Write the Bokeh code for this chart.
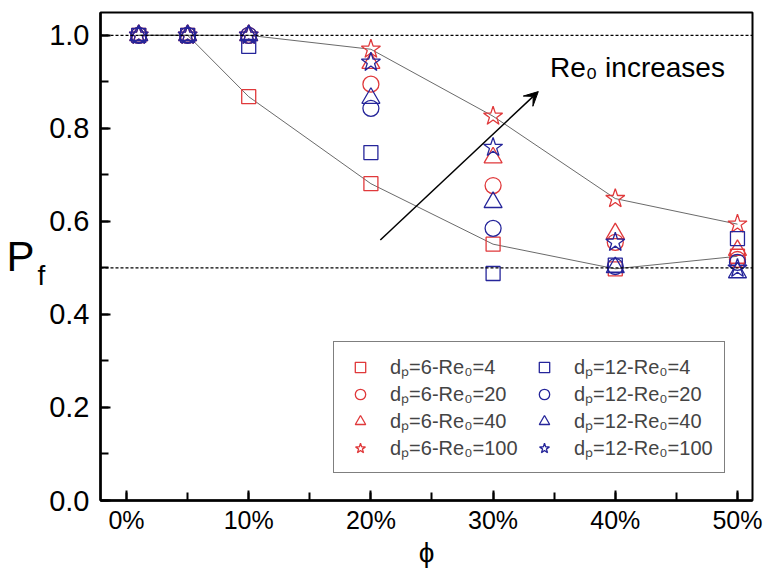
from bokeh.plotting import figure
from bokeh.models import (Range1d, FixedTicker, NumeralTickFormatter, Span, Arrow,
                          VeeHead, Label, Legend, LegendItem, LinearAxis)
from bokeh.embed import file_html
from bokeh.resources import INLINE

# ---- data ----
phi = [0.01, 0.05, 0.10, 0.20, 0.30, 0.40, 0.50]
d6_re4 = [1.0, 1.0, 0.868, 0.681, 0.551, 0.498, 0.525]
d6_re20 = [1.0, 1.0, 1.0, 0.895, 0.677, 0.555, 0.518]
d6_re40 = [1.0, 1.0, 1.0, 0.940, 0.737, 0.574, 0.538]
d6_re100 = [1.0, 1.0, 1.0, 0.970, 0.826, 0.649, 0.594]
d12_re4 = [1.0, 1.0, 0.976, 0.748, 0.488, 0.506, 0.563]
d12_re20 = [1.0, 1.0, 1.0, 0.843, 0.585, 0.503, 0.512]
d12_re40 = [1.0, 1.0, 1.0, 0.865, 0.641, 0.501, 0.490]
d12_re100 = [1.0, 1.0, 1.0, 0.942, 0.759, 0.555, 0.499]
labels6 = ["dₚ=6-Re₀=4", "dₚ=6-Re₀=20", "dₚ=6-Re₀=40", "dₚ=6-Re₀=100"]
labels12 = ["dₚ=12-Re₀=4", "dₚ=12-Re₀=20", "dₚ=12-Re₀=40", "dₚ=12-Re₀=100"]
x_ticks = [0.0, 0.1, 0.2, 0.3, 0.4, 0.5]
x_minor = [0.0, 0.05, 0.1, 0.15, 0.2, 0.25, 0.3, 0.35, 0.4, 0.45, 0.5]
y_ticks = [0.0, 0.2, 0.4, 0.6, 0.8, 1.0]
y_minor = [0.0, 0.1, 0.2, 0.3, 0.4, 0.5, 0.6, 0.7, 0.8, 0.9, 1.0]
ref_levels = [1.0, 0.5]

RED = "#e0393b"
BLUE = "#25259a"
FONT = "Liberation Sans"

p = figure(width=764, height=571, output_backend="svg", toolbar_location=None,
           x_range=Range1d(-0.0213, 0.5123), y_range=Range1d(0.0, 1.049),
           min_border_left=100, min_border_right=12, min_border_top=12,
           min_border_bottom=71)
p.grid.visible = False
p.outline_line_color = "black"
p.outline_line_width = 2
p.outline_line_alpha = 1.0
p.background_fill_color = "white"
p.border_fill_color = "white"

for ax in (p.xaxis[0], p.yaxis[0]):
    ax.axis_line_color = "black"
    ax.axis_line_width = 2.5
    ax.major_tick_line_color = "black"
    ax.minor_tick_line_color = "black"
    ax.major_tick_line_width = 2
    ax.minor_tick_line_width = 2
    ax.major_tick_in = 10
    ax.major_tick_out = 0
    ax.minor_tick_in = 8
    ax.minor_tick_out = 0
    ax.major_label_text_font = FONT
    ax.major_label_text_color = "black"

p.xaxis.major_label_text_font_size = "25px"
p.yaxis.major_label_text_font_size = "29px"
p.xaxis.ticker = FixedTicker(ticks=x_ticks, minor_ticks=x_minor)
p.yaxis.ticker = FixedTicker(ticks=y_ticks, minor_ticks=y_minor)
p.xaxis.formatter = NumeralTickFormatter(format="0%")
p.yaxis.formatter = NumeralTickFormatter(format="0.0")
p.xaxis.major_label_standoff = 5
p.yaxis.major_label_standoff = 11
p.xaxis.axis_label = "ϕ"
p.xaxis.axis_label_text_font = FONT
p.xaxis.axis_label_text_font_size = "28px"
p.xaxis.axis_label_text_font_style = "normal"
p.xaxis.axis_label_text_color = "black"
p.xaxis.axis_label_standoff = 0

# y-axis title P_f: subscript "f" on the main axis, "P" on an outer bare axis
p.yaxis.axis_label = "\nf"
p.yaxis.axis_label_orientation = "horizontal"
p.yaxis.axis_label_text_font = FONT
p.yaxis.axis_label_text_font_size = "28px"
p.yaxis.axis_label_text_font_style = "normal"
p.yaxis.axis_label_text_color = "black"
p.yaxis.axis_label_standoff = 1

outer = LinearAxis(axis_label="P", ticker=FixedTicker(ticks=[]),
                   major_label_text_font_size="0px", major_label_standoff=0,
                   axis_line_color=None, major_tick_line_color=None,
                   minor_tick_line_color=None, major_tick_out=0, major_tick_in=0,
                   minor_tick_out=0, minor_tick_in=0,
                   axis_label_orientation="horizontal", axis_label_standoff=0,
                   axis_label_text_font=FONT, axis_label_text_font_size="42px",
                   axis_label_text_font_style="normal",
                   axis_label_text_color="black")
p.add_layout(outer, "left")

for lv in ref_levels:
    p.add_layout(Span(location=lv, dimension="width", line_color="black",
                      line_dash="3 2", line_width=1.3))

# connecting lines for the bounding series
p.line(phi, d6_re4, line_color="#444444", line_width=0.8)
p.line(phi, d6_re100, line_color="#444444", line_width=0.8)

series6 = [d6_re4, d6_re20, d6_re40, d6_re100]
series12 = [d12_re4, d12_re20, d12_re40, d12_re100]
markers = [("square", 14), ("circle", 16), ("triangle", 18), ("star", 20)]

r6, r12 = [], []
for ys, (m, s) in zip(series6, markers):
    r6.append(p.scatter(phi, ys, marker=m, size=s, fill_color=None,
                        line_color=RED, line_width=1.3))
for ys, (m, s) in zip(series12, markers):
    r12.append(p.scatter(phi, ys, marker=m, size=s, fill_color=None,
                         line_color=BLUE, line_width=1.3))

items = []
for lab, r in zip(labels6, r6):
    items.append(LegendItem(label=lab, renderers=[r]))
for lab, r in zip(labels12, r12):
    items.append(LegendItem(label=lab, renderers=[r]))

legend = Legend(items=items, location=(233, 27), nrows=4,
                label_text_font=FONT, label_text_font_size="20px",
                label_text_line_height=0.9,
                label_height=22, spacing=0, glyph_width=30, glyph_height=26,
                label_standoff=15, label_width=139, padding=11, margin=0,
                border_line_color="black", border_line_width=1.2,
                background_fill_color="white", background_fill_alpha=1.0)
p.add_layout(legend, "center")

p.add_layout(Arrow(end=VeeHead(size=14, fill_color="black", line_color="black"),
                   x_start=0.2077, y_start=0.56, x_end=0.337, y_end=0.879,
                   line_color="black", line_width=1.5))

p.add_layout(Label(x=0.3465, y=0.931, text="Re₀ increases", text_font=FONT,
                   text_font_size="28px", text_baseline="middle",
                   text_color="black"))

open("out.html", "w").write(file_html(p, INLINE))
